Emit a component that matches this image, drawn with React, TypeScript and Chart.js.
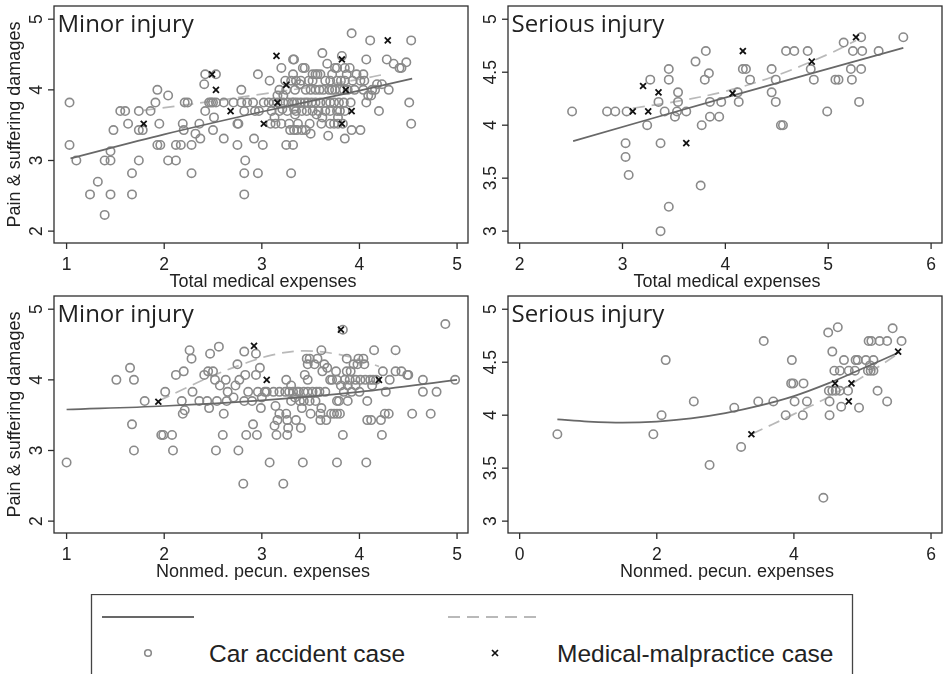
import React, { useEffect, useRef } from 'react';
import { Chart, registerables } from 'chart.js';

Chart.register(...registerables);

type Pt = [number, number];
type Row = [number, number[]];

const AXIS_FONT = '"Liberation Sans", Arial, Helvetica, sans-serif';
const TITLE_FONT = '"Open Sans", "Liberation Sans", sans-serif';

// ---------- text ----------
const panelTitles = ['Minor injury', 'Serious injury', 'Minor injury', 'Serious injury'];
const xTitles = ['Total medical expenses', 'Total medical expenses', 'Nonmed. pecun. expenses', 'Nonmed. pecun. expenses'];
const yTitle = 'Pain & suffering damages';
const legendLabels = ['Car accident case', 'Medical-malpractice case'];

// ---------- ticks ----------
const xTicksMinor = [1, 2, 3, 4, 5];
const yTicksMinor = [2, 3, 4, 5];
const xTicksSeriousMed = [2, 3, 4, 5, 6];
const xTicksSeriousNonmed = [0, 2, 4, 6];
const yTicksSerious = [3, 3.5, 4, 4.5, 5];

// ---------- data: rows of [y, x values] ----------
const minorMedCarRows: Row[] = [
  [4.80, [3.92]],
  [4.70, [4.11, 4.53]],
  [4.52, [3.62]],
  [4.48, [3.82]],
  [4.43, [3.32, 3.33, 4.07, 4.28]],
  [4.39, [4.48]],
  [4.37, [3.67, 4.35]],
  [4.31, [3.20, 3.42, 3.44, 3.75, 3.77, 3.85, 3.90, 4.41, 4.43]],
  [4.22, [2.42, 2.53, 2.96, 3.32, 3.52, 3.55, 3.57, 3.60, 3.72, 3.87, 3.97, 4.04]],
  [4.13, [3.08, 3.24, 3.30, 3.35, 3.40, 3.48, 3.52, 3.65, 3.70, 3.77, 3.81, 3.85, 3.93, 4.01, 4.05]],
  [4.08, [2.41, 3.39, 4.18, 4.23]],
  [4.00, [1.93, 2.79, 3.18, 3.25, 3.34, 3.45, 3.50, 3.55, 3.59, 3.63, 3.69, 3.72, 3.75, 3.80, 3.84, 3.88, 3.95, 4.04, 4.13, 4.16, 4.30]],
  [3.92, [2.04, 3.16, 3.22, 4.09, 4.12]],
  [3.82, [1.03, 1.91, 2.21, 2.24, 2.46, 2.48, 2.50, 2.53, 2.61, 2.71, 2.79, 2.85, 2.91, 3.02, 3.07, 3.12, 3.16, 3.22, 3.27, 3.31, 3.33, 3.36, 3.40, 3.44, 3.47, 3.51, 3.55, 3.60, 3.66, 3.70, 3.74, 3.79, 3.84, 3.91, 4.07, 4.51]],
  [3.73, [3.21, 3.33]],
  [3.70, [1.55, 1.60, 1.74, 1.86, 2.42, 2.82, 2.93, 2.97, 3.10, 3.18, 3.26, 3.35, 3.41, 3.46, 3.52, 3.58, 3.65, 3.70, 3.77, 3.80, 3.85, 4.20]],
  [3.65, [3.34, 3.56]],
  [3.61, [2.51, 3.13, 3.62, 3.78]],
  [3.52, [1.63, 1.95, 2.19, 2.36, 2.75, 2.76, 3.09, 3.14, 3.20, 3.28, 3.37, 3.49, 3.61, 3.70, 3.74, 3.78, 3.83, 4.53]],
  [3.43, [1.48, 1.74, 1.78, 2.20, 2.50, 3.29, 3.33, 3.36, 3.41, 3.45, 3.92, 4.01]],
  [3.38, [2.32, 3.50]],
  [3.35, [3.68]],
  [3.31, [2.37, 2.61, 2.92, 3.85]],
  [3.22, [1.03, 1.93, 1.96, 2.12, 2.17, 2.28, 2.75, 3.01, 3.25, 3.32]],
  [3.13, [1.45]],
  [3.00, [1.10, 1.39, 1.45, 1.74, 2.04, 2.12, 2.83]],
  [2.82, [1.67, 2.28, 2.82, 2.96, 3.30]],
  [2.70, [1.32]],
  [2.52, [1.24, 1.45, 1.67, 2.82]],
  [2.23, [1.39]],
];
const minorMedMal: Pt[] = [
  [1.79, 3.52], [2.49, 4.22], [2.53, 4.0], [2.68, 3.70], [3.02, 3.52], [3.15, 4.48], [3.16, 3.82],
  [3.25, 4.07], [3.82, 4.43], [3.82, 3.52], [3.86, 4.0], [3.92, 3.70], [4.29, 4.70],
];
const minorMedCarFit: Pt[] = [[1.04, 3.03], [2.0, 3.37], [3.0, 3.69], [4.0, 3.99], [4.54, 4.16]];
const minorMedMalFit: Pt[] = [[1.79, 3.71], [2.5, 3.84], [3.0, 3.94], [3.5, 4.04], [4.0, 4.15], [4.29, 4.23]];

const seriousMedCarRows: Row[] = [
  [4.83, [5.32, 5.73]],
  [4.78, [5.15]],
  [4.70, [3.81, 4.59, 4.67, 4.80, 5.24, 5.33, 5.49]],
  [4.60, [3.71]],
  [4.53, [3.45, 4.17, 4.20, 4.45, 4.83, 5.22, 5.32]],
  [4.49, [3.84]],
  [4.43, [3.27, 3.45, 3.80, 4.24, 4.49, 4.86, 5.07, 5.10, 5.23]],
  [4.31, [3.54, 4.12, 4.45]],
  [4.22, [3.35, 3.54, 3.85, 3.96, 4.13, 4.49, 5.30]],
  [4.13, [2.51, 2.85, 2.93, 3.04, 3.41, 3.53, 3.62, 4.99]],
  [4.08, [3.51, 3.85, 3.94]],
  [4.00, [3.24, 3.77, 4.54, 4.56]],
  [3.83, [3.03, 3.37]],
  [3.70, [3.03]],
  [3.53, [3.06]],
  [3.43, [3.76]],
  [3.23, [3.45]],
  [3.00, [3.37]],
];
const seriousMedMal: Pt[] = [
  [3.10, 4.13], [3.20, 4.37], [3.25, 4.13], [3.35, 4.31], [3.62, 3.83], [4.07, 4.30], [4.17, 4.70], [4.84, 4.60], [5.27, 4.83],
];
const seriousMedCarFit: Pt[] = [[2.52, 3.85], [4.0, 4.26], [5.73, 4.73]];
const seriousMedMalFit: Pt[] = [[3.10, 4.16], [3.5, 4.22], [4.0, 4.32], [4.5, 4.47], [5.0, 4.67], [5.27, 4.80]];

const minorNonCarRows: Row[] = [
  [4.79, [4.88]],
  [4.71, [3.83]],
  [4.47, [2.56]],
  [4.42, [2.26, 3.61, 4.15, 4.37]],
  [4.40, [2.82]],
  [4.37, [2.47, 2.94]],
  [4.30, [2.28, 3.46, 3.49, 3.57, 3.87, 3.99, 4.04]],
  [4.22, [2.75, 3.47, 3.54, 3.64, 3.94, 3.98, 4.05]],
  [4.17, [1.65, 2.98, 3.67]],
  [4.12, [2.20, 2.45, 2.50, 3.62, 3.76, 3.87, 3.91, 4.24, 4.37, 4.43]],
  [4.07, [2.12, 2.41, 2.83, 2.94, 3.44, 4.49, 4.50]],
  [4.00, [1.51, 1.69, 2.52, 2.63, 2.77, 3.25, 3.47, 3.70, 3.72, 3.77, 3.85, 3.90, 3.96, 4.01, 4.06, 4.11, 4.14, 4.17, 4.31, 4.65, 4.98]],
  [3.92, [2.57, 2.73, 3.30, 3.81, 3.88, 3.96, 4.13]],
  [3.83, [2.01, 2.29, 2.65, 2.86, 2.96, 3.03, 3.05, 3.12, 3.18, 3.24, 3.28, 3.32, 3.36, 3.38, 3.43, 3.47, 3.52, 3.56, 3.59, 3.65, 3.84, 3.92, 4.00, 4.27, 4.65, 4.79]],
  [3.75, [2.71, 3.00, 3.34]],
  [3.70, [1.80, 2.18, 2.36, 2.44, 2.54, 2.64, 2.82, 2.90, 3.30, 3.39, 3.43, 3.49, 3.55, 3.77, 3.79, 3.88, 4.08]],
  [3.63, [3.14]],
  [3.60, [2.46, 2.99, 3.41, 3.61]],
  [3.57, [2.21]],
  [3.52, [2.19, 2.61, 3.18, 3.25, 3.50, 3.60, 3.71, 3.74, 3.77, 3.80, 4.26, 4.30, 4.54, 4.73]],
  [3.43, [3.16, 3.26, 3.35, 3.60, 3.66, 4.08, 4.12, 4.22]],
  [3.37, [1.67, 2.91]],
  [3.35, [3.13]],
  [3.32, [3.27, 3.40]],
  [3.22, [1.97, 1.99, 2.08, 2.60, 2.84, 2.95, 3.15, 3.26, 3.83, 4.23]],
  [3.00, [1.69, 2.09, 2.53, 2.76]],
  [2.83, [1.00, 3.08, 3.42, 3.77, 4.07]],
  [2.53, [2.81, 3.22]],
];
const minorNonMal: Pt[] = [[1.94, 3.69], [2.92, 4.48], [3.05, 4.0], [3.81, 4.71], [4.20, 4.0]];
const minorNonCarFit: Pt[] = [[1.0, 3.58], [2.0, 3.63], [3.0, 3.71], [4.0, 3.83], [5.0, 4.0]];
const minorNonMalFit: Pt[] = [[1.94, 3.70], [2.2, 3.87], [2.5, 4.06], [2.8, 4.22], [3.1, 4.35], [3.4, 4.41], [3.7, 4.38], [4.0, 4.29], [4.2, 4.19]];

const seriousNonCarRows: Row[] = [
  [4.83, [4.64]],
  [4.82, [5.44]],
  [4.78, [4.50]],
  [4.70, [3.56, 5.09, 5.13, 5.25, 5.36, 5.57]],
  [4.60, [4.56]],
  [4.52, [2.13, 3.97, 4.73, 4.90, 4.93, 5.05, 5.16]],
  [4.47, [5.11]],
  [4.42, [4.59, 4.67, 4.80, 4.89, 5.08, 5.12, 5.16]],
  [4.30, [3.96, 3.99, 4.14]],
  [4.23, [4.51, 4.56, 4.61, 4.67, 4.79, 5.22]],
  [4.13, [2.54, 3.48, 3.70, 4.01, 4.19, 4.52, 5.36]],
  [4.08, [4.69]],
  [4.07, [3.13, 4.95]],
  [4.00, [2.07, 3.88, 4.13, 4.52]],
  [3.82, [0.55, 1.95]],
  [3.70, [3.23]],
  [3.53, [2.77]],
  [3.22, [4.43]],
];
const seriousNonMal: Pt[] = [[3.38, 3.82], [4.60, 4.30], [4.80, 4.13], [4.84, 4.30], [5.52, 4.60]];
const seriousNonCarFit: Pt[] = [[0.55, 3.96], [1.0, 3.94], [1.5, 3.93], [2.0, 3.94], [2.5, 3.97], [3.0, 4.02], [3.5, 4.09], [4.0, 4.18], [4.5, 4.30], [5.0, 4.44], [5.52, 4.59]];
const seriousNonMalFit: Pt[] = [[3.38, 3.82], [4.0, 4.01], [4.5, 4.17], [5.0, 4.36], [5.52, 4.58]];

// ---------- helpers ----------
const fromRows = (r: Row[]): Pt[] => r.flatMap(([y, xs]) => xs.map((x) => [x, y] as Pt));
const toXY = (p: Pt[]) => p.map(([x, y]) => ({ x, y }));

type PanelCfg = {
  left: number; top: number; yWidth: number; padRight: number;
  xMin: number; xMax: number; yMin: number; yMax: number;
  xTicks: number[]; yTicks: number[];
  title: string; xTitle: string; yTitle: string | null;
  car: Pt[]; mal: Pt[]; carFit: Pt[]; malFit: Pt[];
};

const panels: PanelCfg[] = [
  {
    left: 0, top: 0, yWidth: 54, padRight: 2,
    xMin: 0.871, xMax: 5.112, yMin: 1.832, yMax: 5.187,
    xTicks: xTicksMinor, yTicks: yTicksMinor,
    title: panelTitles[0], xTitle: xTitles[0], yTitle,
    car: fromRows(minorMedCarRows), mal: minorMedMal, carFit: minorMedCarFit, malFit: minorMedMalFit,
  },
  {
    left: 474, top: 0, yWidth: 34, padRight: 4,
    xMin: 1.887, xMax: 6.106, yMin: 2.888, yMax: 5.125,
    xTicks: xTicksSeriousMed, yTicks: yTicksSerious,
    title: panelTitles[1], xTitle: xTitles[1], yTitle: null,
    car: fromRows(seriousMedCarRows), mal: seriousMedMal, carFit: seriousMedCarFit, malFit: seriousMedMalFit,
  },
  {
    left: 0, top: 290, yWidth: 54, padRight: 2,
    xMin: 0.871, xMax: 5.112, yMin: 1.832, yMax: 5.187,
    xTicks: xTicksMinor, yTicks: yTicksMinor,
    title: panelTitles[2], xTitle: xTitles[2], yTitle,
    car: fromRows(minorNonCarRows), mal: minorNonMal, carFit: minorNonCarFit, malFit: minorNonMalFit,
  },
  {
    left: 474, top: 290, yWidth: 34, padRight: 4,
    xMin: -0.170, xMax: 6.160, yMin: 2.888, yMax: 5.125,
    xTicks: xTicksSeriousNonmed, yTicks: yTicksSerious,
    title: panelTitles[3], xTitle: xTitles[3], yTitle: null,
    car: fromRows(seriousNonCarRows), mal: seriousNonMal, carFit: seriousNonCarFit, malFit: seriousNonMalFit,
  },
];

const CAR_COLOR = '#8a8a8a';
const MAL_COLOR = '#111111';
const SOLID_COLOR = '#686868';
const DASH_COLOR = '#b9b9b9';
const TEXT_COLOR = '#222222';
const FRAME_COLOR = '#2e2e2e';

const stataAxes = {
  id: 'stataAxes',
  afterDraw(chart: any, _args: any, opts: any) {
    const { ctx, chartArea: a, scales } = chart;
    const xs = scales.x;
    const ys = scales.y;
    ctx.save();
    ctx.strokeStyle = FRAME_COLOR;
    ctx.lineWidth = 1.3;
    ctx.strokeRect(a.left, a.top, a.right - a.left, a.bottom - a.top);

    ctx.fillStyle = TEXT_COLOR;
    ctx.font = `17.5px ${AXIS_FONT}`;
    ctx.textBaseline = 'alphabetic';
    ctx.textAlign = 'center';
    for (const v of opts.xTicks as number[]) {
      const px = xs.getPixelForValue(v);
      ctx.beginPath();
      ctx.moveTo(px, a.bottom);
      ctx.lineTo(px, a.bottom + 6);
      ctx.stroke();
      ctx.fillText(String(v), px, a.bottom + 27);
    }
    for (const v of opts.yTicks as number[]) {
      const py = ys.getPixelForValue(v);
      ctx.beginPath();
      ctx.moveTo(a.left, py);
      ctx.lineTo(a.left - 6, py);
      ctx.stroke();
      ctx.save();
      ctx.translate(a.left - 12.5, py);
      ctx.rotate(-Math.PI / 2);
      ctx.textAlign = 'center';
      ctx.fillText(String(v), 0, 0);
      ctx.restore();
    }

    ctx.font = `18px ${AXIS_FONT}`;
    ctx.textAlign = 'center';
    ctx.fillText(opts.xTitle, (a.left + a.right) / 2 + 2, a.bottom + 44);

    if (opts.yTitle) {
      ctx.save();
      ctx.translate(19.5, (a.top + a.bottom) / 2);
      ctx.rotate(-Math.PI / 2);
      ctx.textAlign = 'center';
      ctx.fillText(opts.yTitle, 0, 0);
      ctx.restore();
    }

    ctx.font = `24px ${TITLE_FONT}`;
    ctx.textAlign = 'left';
    ctx.fillText(opts.title, a.left + 3.5, a.top + 25.5);
    ctx.restore();
  },
};

function Panel({ cfg }: { cfg: PanelCfg }) {
  const ref = useRef<HTMLCanvasElement>(null);
  useEffect(() => {
    const chart = new Chart(ref.current as HTMLCanvasElement, {
      type: 'scatter',
      data: {
        datasets: [
          {
            label: 'car fit',
            data: toXY(cfg.carFit),
            showLine: true,
            borderColor: SOLID_COLOR,
            borderWidth: 1.7,
            pointRadius: 0,
            tension: 0.35,
            order: 1,
          } as any,
          {
            label: legendLabels[0],
            data: toXY(cfg.car),
            pointStyle: 'circle',
            pointRadius: 4.2,
            pointBorderWidth: 1.6,
            borderWidth: 1.6,
            borderColor: CAR_COLOR,
            pointBorderColor: CAR_COLOR,
            backgroundColor: 'rgba(0,0,0,0)',
            pointBackgroundColor: 'rgba(0,0,0,0)',
            order: 2,
          } as any,
          {
            label: 'malpractice fit',
            data: toXY(cfg.malFit),
            showLine: true,
            borderColor: DASH_COLOR,
            borderWidth: 1.7,
            borderDash: [12, 7],
            pointRadius: 0,
            tension: 0.35,
            order: 3,
          } as any,
          {
            label: legendLabels[1],
            data: toXY(cfg.mal),
            pointStyle: 'crossRot',
            pointRadius: 4.2,
            pointBorderWidth: 1.8,
            borderWidth: 1.8,
            borderColor: MAL_COLOR,
            pointBorderColor: MAL_COLOR,
            order: 0,
          } as any,
        ],
      },
      options: {
        responsive: false,
        animation: false,
        devicePixelRatio: 1,
        events: [],
        layout: { padding: { top: 4, right: cfg.padRight, left: 0, bottom: 0 } },
        plugins: {
          legend: { display: false },
          tooltip: { enabled: false },
          stataAxes: {
            xTicks: cfg.xTicks, yTicks: cfg.yTicks,
            title: cfg.title, xTitle: cfg.xTitle, yTitle: cfg.yTitle,
          },
        } as any,
        scales: {
          x: {
            type: 'linear', min: cfg.xMin, max: cfg.xMax,
            ticks: { display: false }, grid: { display: false }, border: { display: false },
            afterFit: (s: any) => { s.height = 47; },
          },
          y: {
            type: 'linear', min: cfg.yMin, max: cfg.yMax,
            ticks: { display: false }, grid: { display: false }, border: { display: false },
            afterFit: (s: any) => { s.width = cfg.yWidth; },
          },
        },
      },
      plugins: [stataAxes],
    });
    return () => chart.destroy();
  }, [cfg]);
  return (
    <canvas
      ref={ref}
      width={474}
      height={290}
      style={{ position: 'absolute', left: cfg.left, top: cfg.top, width: 474, height: 290 }}
    />
  );
}

function Legend() {
  const font = { fontFamily: AXIS_FONT, fontSize: 24.5, fill: TEXT_COLOR } as any;
  return (
    <svg width={948} height={80} style={{ position: 'absolute', left: 0, top: 594 }}>
      <rect x={91.5} y={0.5} width={761} height={200} fill="none" stroke="#444" strokeWidth={1.3} />
      <line x1={102} x2={194} y1={23} y2={23} stroke={SOLID_COLOR} strokeWidth={2.2} />
      <line x1={448} x2={540} y1={23} y2={23} stroke={DASH_COLOR} strokeWidth={2.2} strokeDasharray="12 7" />
      <circle cx={148} cy={59} r={3.3} fill="none" stroke={CAR_COLOR} strokeWidth={1.6} />
      <path d="M492 56 L498 62 M498 56 L492 62" stroke={MAL_COLOR} strokeWidth={1.7} />
      <text x={209} y={68} style={font}>{legendLabels[0]}</text>
      <text x={557} y={68} style={font}>{legendLabels[1]}</text>
    </svg>
  );
}

export default function App() {
  return (
    <div
      style={{
        position: 'fixed', left: 0, top: 0, width: 948, height: 674,
        overflow: 'hidden', background: '#ffffff',
      }}
    >
      {panels.map((p, i) => (
        <Panel key={i} cfg={p} />
      ))}
      <Legend />
    </div>
  );
}
